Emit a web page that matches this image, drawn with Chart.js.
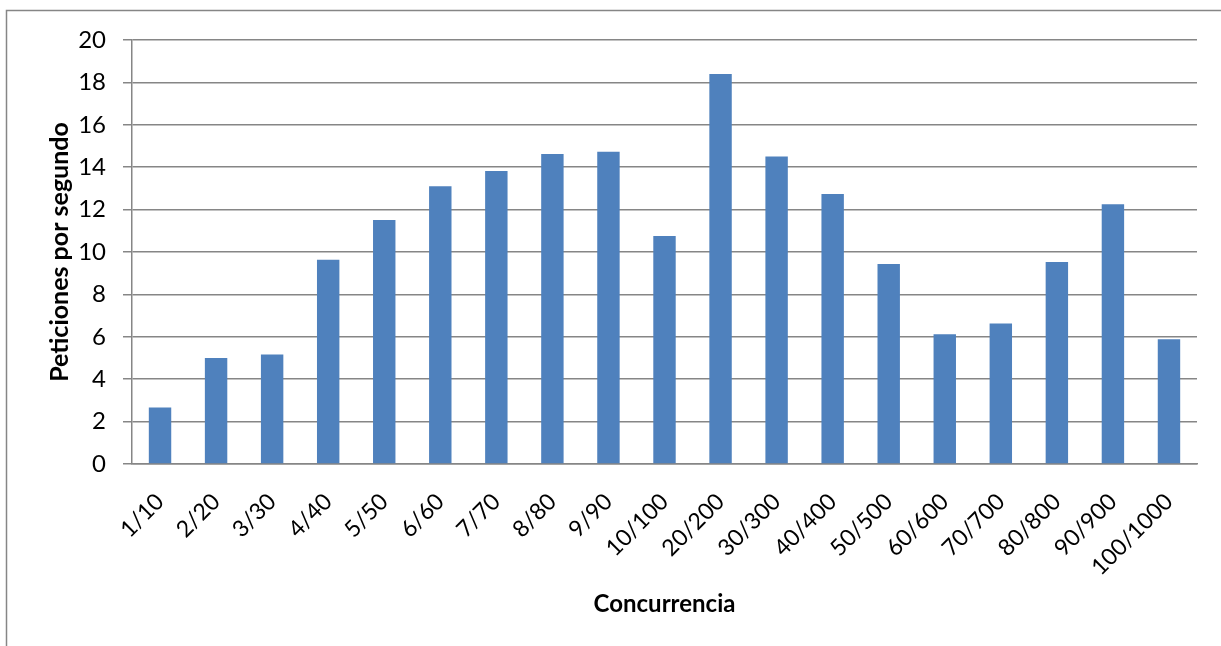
<!DOCTYPE html>
<html>
<head>
<meta charset="utf-8">
<script src="https://cdn.jsdelivr.net/npm/chart.js@4.4.0/dist/chart.umd.min.js"></script>
<style>
  html, body { margin: 0; padding: 0; background: #fff; }
  #wrap { position: relative; width: 1221px; height: 646px; }
</style>
</head>
<body>
<div id="wrap"><canvas id="chart" width="1221" height="646"></canvas></div>
<script>
// Requests per second for each concurrency setting
const categories = ['1/10','2/20','3/30','4/40','5/50','6/60','7/70','8/80','9/90','10/100',
  '20/200','30/300','40/400','50/500','60/600','70/700','80/800','90/900','100/1000'];
const requestsPerSecond = [2.67, 5.0, 5.16, 9.64, 11.51, 13.1, 13.82, 14.62, 14.73, 10.75,
  18.4, 14.5, 12.74, 9.43, 6.12, 6.63, 9.53, 12.25, 5.88];
const yTicks = [0, 2, 4, 6, 8, 10, 12, 14, 16, 18, 20];

const GRID = '#868686';
const FONT = "Lato, 'Liberation Sans', sans-serif";

// thin frame around the whole chart (runs off the right and bottom edge)
const frame = {
  id: 'frame',
  beforeDraw(chart) {
    const ctx = chart.ctx;
    ctx.save();
    ctx.strokeStyle = GRID;
    ctx.lineWidth = 1.5;
    ctx.strokeRect(6.5, 10.5, 1400, 800);
    ctx.restore();
  }
};

Chart.defaults.font.family = FONT;
Chart.defaults.color = '#000';

new Chart(document.getElementById('chart'), {
  type: 'bar',
  data: {
    labels: categories,
    datasets: [{
      data: requestsPerSecond,
      backgroundColor: '#4F81BD',
      borderWidth: 0,
      barPercentage: 0.4,
      categoryPercentage: 1.0
    }]
  },
  options: {
    responsive: false,
    animation: false,
    layout: { padding: { top: 40, right: 24, left: 0, bottom: 0 } },
    plugins: { legend: { display: false }, tooltip: { enabled: false } },
    scales: {
      x: {
        grid: { display: false, drawTicks: false },
        border: { color: GRID, width: 1.5 },
        ticks: {
          maxRotation: 45, minRotation: 45, autoSkip: false,
          padding: 24,
          font: { size: 23 }
        },
        title: {
          display: true, text: 'Concurrencia',
          font: { size: 24, weight: 'bold' },
          padding: { top: 0, bottom: 27 }
        },
        afterFit(scale) { scale.height = 182; }
      },
      y: {
        min: 0, max: 20,
        afterBuildTicks(scale) { scale.ticks = yTicks.map(v => ({ value: v })); },
        grid: { color: GRID, lineWidth: 1.5, tickLength: 9 },
        border: { color: GRID, width: 1.5 },
        ticks: { padding: 17, font: { size: 24 } },
        title: {
          display: true, text: 'Peticiones por segundo',
          font: { size: 25, weight: 'bold' },
          padding: { top: 45, bottom: 0 }
        },
        afterFit(scale) { scale.width = 132; }
      }
    }
  },
  plugins: [frame]
});
</script>
</body>
</html>
